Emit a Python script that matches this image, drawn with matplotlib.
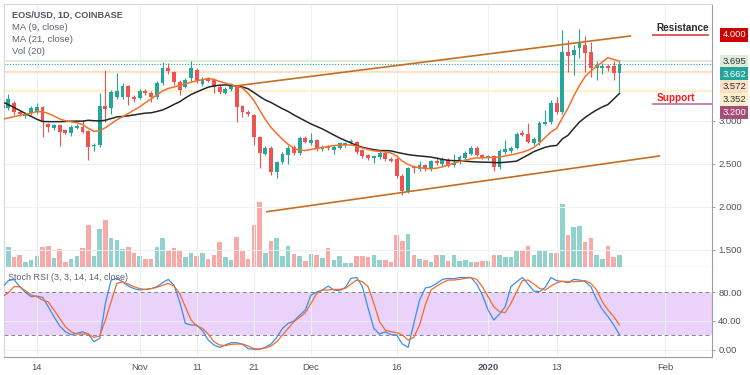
import matplotlib.pyplot as plt
import matplotlib.ticker as mticker
import numpy as np
import pandas as pd

plt.rcParams['font.family'] = ['Liberation Sans', 'DejaVu Sans']

# daily candles, first one is 2019-10-08
start_date = '2019-10-08'
opens = [3.18, 3.15, 3.21, 3.10, 3.06, 3.09, 3.10, 3.16, 2.96, 2.92,
         2.95, 2.89, 2.86, 2.92, 2.93, 2.88, 2.71, 2.72, 3.17, 3.15,
         3.28, 3.28, 3.41, 3.28, 3.27, 3.35, 3.33, 3.28, 3.44, 3.62,
         3.57, 3.45, 3.40, 3.50, 3.59, 3.43, 3.49, 3.48, 3.40, 3.33,
         3.37, 3.40, 3.17, 3.11, 3.07, 2.81, 2.62, 2.69, 2.41, 2.52,
         2.60, 2.70, 2.63, 2.80, 2.74, 2.78, 2.67, 2.70, 2.66, 2.69,
         2.72, 2.75, 2.75, 2.66, 2.60, 2.57, 2.58, 2.63, 2.56, 2.56,
         2.36, 2.17, 2.47, 2.44, 2.49, 2.44, 2.54, 2.50, 2.55, 2.49,
         2.52, 2.57, 2.62, 2.69, 2.60, 2.57, 2.59, 2.46, 2.64, 2.65,
         2.69, 2.86, 2.85, 2.74, 2.75, 2.97, 2.99, 3.21, 3.10, 3.80,
         3.77, 3.85, 3.88, 3.80, 3.62, 3.62, 3.64, 3.64, 3.56]
highs = [3.20, 3.31, 3.23, 3.13, 3.10, 3.17, 3.21, 3.17, 2.98, 2.97,
         2.97, 2.90, 2.95, 2.96, 3.01, 2.89, 2.74, 3.33, 3.59, 3.36,
         3.56, 3.44, 3.42, 3.30, 3.37, 3.37, 3.35, 3.47, 3.69, 3.67,
         3.58, 3.48, 3.50, 3.70, 3.62, 3.51, 3.51, 3.50, 3.42, 3.39,
         3.44, 3.42, 3.18, 3.13, 3.08, 2.83, 2.71, 2.71, 2.54, 2.64,
         2.72, 2.72, 2.82, 2.82, 2.86, 2.79, 2.72, 2.72, 2.72, 2.76,
         2.76, 2.79, 2.77, 2.67, 2.62, 2.61, 2.65, 2.65, 2.58, 2.58,
         2.38, 2.47, 2.49, 2.53, 2.50, 2.55, 2.58, 2.58, 2.57, 2.62,
         2.60, 2.65, 2.71, 2.71, 2.62, 2.61, 2.60, 2.67, 2.78, 2.71,
         2.87, 2.90, 2.98, 2.81, 3.00, 3.13, 3.24, 3.28, 4.06, 3.94,
         3.88, 4.07, 3.99, 3.92, 3.70, 3.67, 3.66, 3.70, 3.695]
lows = [3.13, 3.13, 3.07, 3.06, 3.04, 3.07, 3.08, 2.81, 2.87, 2.90,
        2.71, 2.85, 2.83, 2.91, 2.86, 2.55, 2.65, 2.70, 2.99, 3.08,
        3.26, 3.25, 3.19, 3.22, 3.25, 3.30, 3.22, 3.26, 3.42, 3.55,
        3.42, 3.30, 3.38, 3.46, 3.44, 3.41, 3.45, 3.33, 3.31, 3.31,
        3.35, 2.99, 3.05, 3.06, 2.72, 2.45, 2.60, 2.37, 2.34, 2.50,
        2.50, 2.61, 2.61, 2.74, 2.72, 2.65, 2.65, 2.66, 2.62, 2.67,
        2.70, 2.73, 2.62, 2.57, 2.55, 2.51, 2.56, 2.54, 2.52, 2.34,
        2.14, 2.16, 2.40, 2.42, 2.42, 2.42, 2.49, 2.48, 2.46, 2.47,
        2.50, 2.55, 2.60, 2.59, 2.56, 2.55, 2.42, 2.44, 2.62, 2.63,
        2.67, 2.82, 2.74, 2.72, 2.72, 2.95, 2.97, 3.08, 3.08, 3.57,
        3.53, 3.73, 3.57, 3.51, 3.48, 3.55, 3.58, 3.48, 3.34]
closes = [3.15, 3.25, 3.10, 3.08, 3.08, 3.15, 3.16, 2.99, 2.93, 2.95,
          2.87, 2.86, 2.93, 2.94, 2.87, 2.70, 2.72, 3.17, 3.14, 3.34,
          3.35, 3.41, 3.28, 3.26, 3.35, 3.33, 3.28, 3.44, 3.62, 3.58,
          3.45, 3.36, 3.48, 3.62, 3.46, 3.49, 3.47, 3.40, 3.34, 3.37,
          3.42, 3.16, 3.10, 3.08, 2.81, 2.63, 2.69, 2.41, 2.52, 2.62,
          2.69, 2.63, 2.80, 2.76, 2.78, 2.67, 2.70, 2.68, 2.70, 2.74,
          2.74, 2.77, 2.64, 2.59, 2.57, 2.59, 2.63, 2.56, 2.54, 2.36,
          2.19, 2.45, 2.45, 2.49, 2.44, 2.53, 2.51, 2.56, 2.48, 2.51,
          2.58, 2.63, 2.69, 2.61, 2.58, 2.59, 2.46, 2.65, 2.67, 2.69,
          2.85, 2.84, 2.76, 2.79, 2.98, 2.99, 3.21, 3.10, 3.80, 3.76,
          3.82, 3.91, 3.79, 3.62, 3.65, 3.64, 3.62, 3.56, 3.662]
# relative volume (units of the volume pane)
volume = [10, 20, 10, 12, 5, 7, 11, 20, 21, 9,
          18, 5, 8, 11, 19, 42, 11, 38, 47, 29,
          27, 18, 20, 14, 11, 8, 8, 20, 29, 16,
          19, 16, 10, 14, 11, 14, 8, 12, 25, 10,
          7, 30, 16, 8, 42, 65, 14, 26, 29, 11,
          21, 13, 11, 6, 13, 12, 9, 19, 7, 11,
          4, 4, 11, 11, 10, 12, 7, 7, 5, 32,
          26, 33, 12, 8, 7, 5, 12, 12, 6, 12,
          6, 7, 5, 5, 6, 6, 12, 12, 10, 10,
          16, 17, 21, 12, 16, 16, 14, 14, 63, 32,
          40, 41, 25, 29, 12, 8, 21, 10, 12]
ma9 = [3.020, 3.035, 3.050, 3.064, 3.078, 3.093, 3.108, 3.108, 3.087, 3.058,
       3.023, 3.003, 2.990, 2.979, 2.959, 2.915, 2.880, 2.886, 2.922, 2.967,
       3.012, 3.049, 3.087, 3.126, 3.163, 3.212, 3.256, 3.302, 3.349, 3.378,
       3.395, 3.413, 3.433, 3.450, 3.467, 3.480, 3.494, 3.483, 3.459, 3.440,
       3.423, 3.403, 3.384, 3.320, 3.238, 3.128, 3.017, 2.924, 2.855, 2.785,
       2.729, 2.683, 2.657, 2.657, 2.669, 2.680, 2.692, 2.703, 2.713, 2.721,
       2.721, 2.721, 2.707, 2.686, 2.669, 2.653, 2.647, 2.640, 2.628, 2.593,
       2.531, 2.494, 2.467, 2.457, 2.449, 2.444, 2.451, 2.466, 2.488, 2.509,
       2.528, 2.544, 2.560, 2.570, 2.572, 2.574, 2.578, 2.581, 2.593, 2.605,
       2.620, 2.637, 2.660, 2.691, 2.744, 2.808, 2.872, 2.913, 3.035, 3.151,
       3.291, 3.413, 3.517, 3.581, 3.634, 3.686, 3.736, 3.715, 3.695]
ma21 = [3.221, 3.190, 3.157, 3.122, 3.087, 3.053, 3.020, 2.994, 2.992, 2.992,
        2.992, 2.994, 2.997, 2.998, 2.998, 3.008, 3.003, 3.000, 3.008, 3.028,
        3.047, 3.052, 3.060, 3.070, 3.081, 3.091, 3.095, 3.110, 3.128, 3.157,
        3.192, 3.223, 3.267, 3.308, 3.337, 3.366, 3.393, 3.407, 3.416, 3.419,
        3.413, 3.407, 3.395, 3.374, 3.331, 3.285, 3.244, 3.215, 3.178, 3.142,
        3.110, 3.070, 3.035, 3.000, 2.965, 2.936, 2.907, 2.872, 2.837, 2.802,
        2.773, 2.744, 2.715, 2.694, 2.679, 2.667, 2.656, 2.655, 2.652, 2.636,
        2.622, 2.609, 2.600, 2.593, 2.587, 2.580, 2.567, 2.553, 2.543, 2.538,
        2.538, 2.533, 2.527, 2.523, 2.521, 2.520, 2.517, 2.515, 2.520, 2.526,
        2.533, 2.570, 2.605, 2.643, 2.669, 2.694, 2.709, 2.715, 2.791, 2.834,
        2.913, 2.988, 3.041, 3.087, 3.128, 3.163, 3.192, 3.256, 3.320]
stoch_k = [87, 95.6, 97.4, 87.3, 79.5, 73.5, 74.4, 72.6, 59.7, 45.9,
           33.1, 25.2, 21.1, 23, 25.2, 22, 11.4, 16, 64.3, 96.5,
           98.8, 94.2, 88.2, 84.6, 82.7, 83.6, 84.6, 87.3, 92.8, 97.4,
           89.6, 66.6, 36.7, 34.4, 34.4, 26.6, 13.7, 6.9, 3.6, 6.9,
           10.1, 10.1, 7.8, 1.8, 0.9, 0.9, 3.6, 8.2, 17.4, 29.8,
           36.7, 40, 47.8, 55.1, 75.8, 80, 82.7, 88.2, 82.7, 81.8,
           86.4, 98.8, 100, 87.3, 57.4, 29.8, 22, 25.2, 21.1, 20.6,
           8.2, 3.6, 36.7, 68.9, 85.5, 87.3, 91.9, 97.4, 98.8, 98.3,
           100, 100, 100, 91, 75.8, 55.1, 41.3, 49.6, 59.7, 87.3,
           94.2, 100, 91, 81.3, 80.4, 86.4, 100, 95.6, 94.7, 92.8,
           97.4, 96.5, 94.2, 87.3, 69.8, 56, 46, 34.5, 21]
stoch_d = [73.5, 79, 87.3, 87.3, 81.8, 75.8, 73.5, 68.9, 66.2, 55.1,
           43.6, 32.1, 25.2, 22, 22, 22, 17.4, 19.3, 41.3, 66.6,
           91.9, 93.8, 91, 87.3, 84.6, 83.6, 84.6, 86.4, 89.2, 91.9,
           88.2, 78.1, 59.7, 41.3, 33.1, 29.8, 22, 11.4, 6.9, 5.9,
           7.8, 8.2, 8.2, 5.5, 1.8, 1.3, 2.7, 5.5, 11.4, 20.6,
           29.8, 39, 45, 51.5, 64.3, 78.1, 82.7, 82.7, 83.6, 83.6,
           85, 91, 96.5, 94.2, 87.3, 64.3, 39, 27.5, 25.2, 23.9,
           20.6, 13.7, 17.4, 34.4, 62, 82.7, 88.2, 92.8, 96.5, 96.5,
           97.4, 98.8, 100, 97.4, 87.3, 73.5, 59.7, 52.8, 51.5, 64.3,
           80.4, 95.6, 96.5, 91, 85, 82.7, 88.2, 92.8, 94.7, 94.2,
           94.2, 94.7, 95.6, 91.9, 82.7, 66.6, 55.1, 46, 34.4]

tick_dates = ['2019-10-14', '2019-11-01', '2019-11-11', '2019-11-21', '2019-12-01',
              '2019-12-16', '2020-01-01', '2020-01-13', '2020-02-01']
tick_labels = ['14', 'Nov', '11', '21', 'Dec', '16', '2020', '13', 'Feb']
price_ticks = [1.5, 2.0, 2.5, 3.0]
rsi_ticks = [0, 40, 80]

# tagged price levels on the right scale
level_values = [4.000, 3.695, 3.662, 3.572, 3.352, 3.200]
level_fill = ['#cc0000', '#dfedd8', '#26a69a', '#fce1c7', '#fff1cb', '#a64d79']
level_text = ['white', '#333333', 'white', '#333333', '#333333', 'white']
level_shift = [0, 0, -7.2, -10.8, -6.7, -6.3]   # pt, labels pushed apart like TV does

# hand drawn trend channel (bar index, price)
upper_channel = ([40.7, 109.9], [3.407, 3.988])
lower_channel = ([46.3, 115.0], [1.945, 2.593])
resistance = 4.0
support = 3.2

UP, DOWN = '#26a69a', '#ef5350'
UP_VOL, DOWN_VOL = '#92d2cc', '#f7aaa8'
GRID = '#edf1f4'
TXT = '#4c525e'
AXFS = 6.8

W, H = 750, 375


def rect(x0, y0, x1, y1):
    return [x0 / W, 1 - y1 / H, (x1 - x0) / W, (y1 - y0) / H]


fig = plt.figure(figsize=(7.5, 3.75), dpi=100)
ax_vol = fig.add_axes(rect(4, 4, 712, 267))
ax = fig.add_axes(rect(4, 4, 712, 267), sharex=ax_vol)
ax_rsi = fig.add_axes(rect(4, 267, 712, 357), sharex=ax_vol)
ax.patch.set_visible(False)

x = np.arange(len(closes))
o, h, l, c = map(np.array, (opens, highs, lows, closes))
up = c >= o

# volume pane
ax_vol.bar(x, volume, width=0.8, color=np.where(up, UP_VOL, DOWN_VOL), linewidth=0)
ax_vol.set_ylim(0, 263)
ax_vol.set_yticks([])
ax_vol.tick_params(axis='x', bottom=False, labelbottom=False)
for s in ax_vol.spines.values():
    s.set_visible(False)

# price pane
ax.set_xlim(0.25, 124.2)
ax.set_ylim(1.302, 4.36)
ax.grid(True, color=GRID, lw=0.7, zorder=0)
ax.set_axisbelow(True)

for v, fc in zip(level_values[1:], level_fill[1:]):
    if v == 3.662:
        ax.axhline(v, color=fc, lw=0.8, ls=(0, (1, 1.5)), zorder=1)
    elif v != support:
        ax.axhline(v, color=fc, lw=1.6, zorder=1)

colors = np.where(up, UP, DOWN)
ax.vlines(x, l, h, colors=colors, lw=0.8, zorder=3)
ax.bar(x, np.maximum(np.abs(c - o), 0.007), bottom=np.minimum(o, c), width=0.68,
       color=colors, linewidth=0, zorder=3)

ax.plot(x, ma21, color='#262626', lw=1.1, zorder=4)
ax.plot(x, ma9, color='#f4702a', lw=1.1, zorder=4)

ax.plot(*upper_channel, color='#c46f22', lw=1.2, zorder=5)
ax.plot(*lower_channel, color='#c46f22', lw=1.2, zorder=5)

ax.plot([113.9, 123.5], [resistance, resistance], color='#e04e4e', lw=1.3, zorder=5)
ax.plot([113.9, 124.2], [support, support], color='#c27ba0', lw=1.3, zorder=5)
ax.text(114.4, 4.08, 'Resistance', fontsize=7.2, fontweight='bold', color='#2b2b2b', va='center')
ax.text(114.6, 3.265, 'Support', fontsize=7.2, fontweight='bold', color='#ff1a1a', va='center')

ax.yaxis.tick_right()
ax.set_yticks(price_ticks)
ax.yaxis.set_major_formatter(mticker.FormatStrFormatter('%.3f'))
ax.tick_params(axis='y', length=2.5, width=0.6, color='#8f939c', labelsize=AXFS,
               labelcolor=TXT, pad=2)
ax.tick_params(axis='x', bottom=False, labelbottom=False)

trans = ax.get_yaxis_transform()
for v, fc, tc, dy in zip(level_values, level_fill, level_text, level_shift):
    ax.annotate(f'{v:.3f}', xy=(1, v), xycoords=trans, xytext=(7.5, dy),
                textcoords='offset points', ha='left', va='center', fontsize=AXFS,
                color=tc, annotation_clip=False, zorder=6,
                bbox=dict(boxstyle='square,pad=0.22', fc=fc, ec='none'))

for side, s in ax.spines.items():
    s.set_color('#9a9ea6' if side in ('right', 'bottom') else '#d6d8dc')
    s.set_linewidth(0.8)

# stoch RSI pane
ax_rsi.set_ylim(-9.7, 114.5)
ax_rsi.axhspan(20, 80, color='#ead2fb', lw=0, zorder=0)
ax_rsi.grid(True, color=GRID, lw=0.7)
ax_rsi.set_axisbelow(True)
for lvl in (80, 20):
    ax_rsi.axhline(lvl, color='#80838c', lw=0.7, ls=(0, (4, 3)), zorder=1)
ax_rsi.plot(x, stoch_k, color='#3b8fea', lw=0.9, zorder=3)
ax_rsi.plot(x, stoch_d, color='#f26b2a', lw=0.9, zorder=3)

ax_rsi.yaxis.tick_right()
ax_rsi.set_yticks(rsi_ticks)
ax_rsi.yaxis.set_major_formatter(mticker.FormatStrFormatter('%.2f'))
ax_rsi.tick_params(axis='y', length=2.5, width=0.6, color='#8f939c', labelsize=AXFS,
                   labelcolor=TXT, pad=2)

tick_pos = (pd.to_datetime(tick_dates) - pd.Timestamp(start_date)).days
ax_rsi.set_xticks(tick_pos)
ax_rsi.set_xticklabels(tick_labels)
ax_rsi.tick_params(axis='x', length=0, labelsize=AXFS, labelcolor=TXT, pad=4)
ax_rsi.get_xticklabels()[tick_labels.index('2020')].set_fontweight('bold')
for side, s in ax_rsi.spines.items():
    s.set_visible(side != 'top')
    s.set_color('#9a9ea6' if side in ('right', 'bottom') else '#d6d8dc')
    s.set_linewidth(0.8)

# legends
fig.text(12 / W, 1 - 15 / H, 'EOS/USD, 1D, COINBASE', fontsize=6.6, fontweight='bold',
         color='#505560', va='center')
for i, t in enumerate(['MA (9, close)', 'MA (21, close)', 'Vol (20)']):
    fig.text(12 / W, 1 - (27 + 12 * i) / H, t, fontsize=6.8, color='#5d6270', va='center')
fig.text(8 / W, 1 - 278 / H, 'Stoch RSI (3, 3, 14, 14, close)', fontsize=6.5,
         color='#5d6270', va='center')

fig.savefig('out.png', dpi=100)
